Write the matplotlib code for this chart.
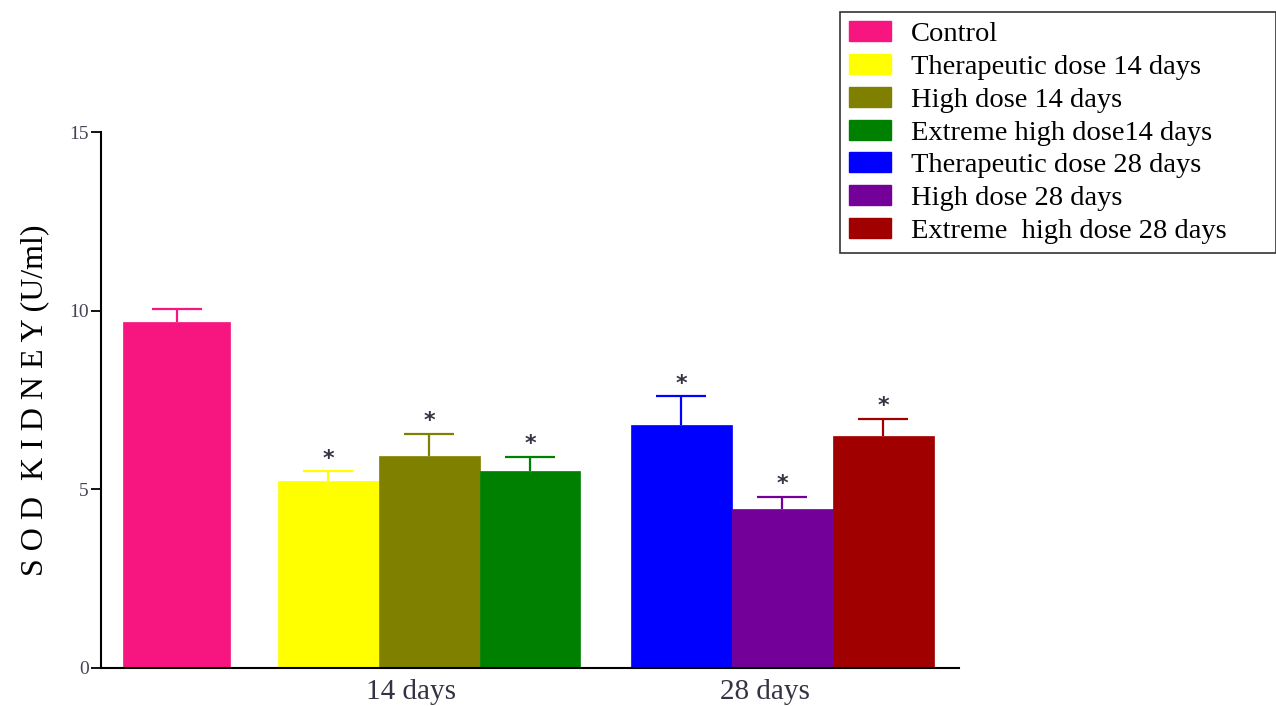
import numpy as np
import matplotlib.pyplot as plt
from matplotlib.patches import Patch

groups = ['Control', 'Therapeutic dose 14 days', 'High dose 14 days',
          'Extreme high dose14 days', 'Therapeutic dose 28 days',
          'High dose 28 days', 'Extreme  high dose 28 days']
means = [9.68, 5.23, 5.93, 5.51, 6.80, 4.45, 6.49]
errors = [0.37, 0.28, 0.62, 0.40, 0.81, 0.34, 0.48]
signif = [False, True, True, True, True, True, True]
colors = ['#F7157F', '#FFFF00', '#808000', '#008000', '#0000FF', '#730099', '#A00000']
xpos = [0, 1.5, 2.5, 3.5, 5, 6, 7]
widths = [1.06, 1, 1, 1, 1, 1, 1]
tick_pos = [2.32, 5.83]
tick_labels = ['14 days', '28 days']

plt.rcParams['font.family'] = ['Liberation Serif', 'DejaVu Serif']

fig = plt.figure(figsize=(12.76, 7.06), dpi=100)
ax = fig.add_axes([101 / 1276, 38 / 706, (959 - 101) / 1276, (668 - 132) / 706])

for x, m, e, w, c, s in zip(xpos, means, errors, widths, colors, signif):
    ax.bar(x, m, width=w, color=c, edgecolor=c, linewidth=0.5, zorder=2)
    eb = ax.errorbar(x, m, yerr=[[0], [e]], fmt='none', ecolor=c, elinewidth=1.6,
                     capsize=18, capthick=1.6, zorder=3)
    eb[1][0].set_visible(False)  # only the upper cap
    if s:
        ax.annotate('*', (x, m + e), xytext=(0, 9), textcoords='offset points',
                    ha='center', va='center', fontsize=16, fontweight='bold',
                    color='#333344', family='DejaVu Sans')

ax.set_xlim(-0.75, 7.75)
ax.set_ylim(0, 15)
ax.set_yticks([0, 5, 10, 15])
ax.set_xticks(tick_pos)
ax.set_xticklabels(tick_labels, fontsize=21, color='#333344')
ax.tick_params(axis='x', length=0, pad=8)
ax.tick_params(axis='y', length=7, width=1.3, labelsize=14, labelcolor='#444455', pad=2)
for side in ['top', 'right']:
    ax.spines[side].set_visible(False)
ax.spines['left'].set_linewidth(1.5)
ax.spines['bottom'].set_linewidth(1.5)
ax.set_ylabel('S O D  K I D N E Y (U/ml)', fontsize=23, labelpad=14)

handles = [Patch(facecolor=c, edgecolor=c) for c in colors]
leg = fig.legend(handles, groups, loc='upper left',
                 bbox_to_anchor=(840 / 1276, 1 - 12 / 706, 436 / 1276, 0),
                 mode='expand',
                 fontsize=20.5, frameon=True, fancybox=False,
                 handlelength=1.45, handleheight=0.7, handletextpad=0.7,
                 labelspacing=0.24, borderpad=0.33, borderaxespad=0)
leg.get_frame().set_edgecolor('black')
leg.get_frame().set_linewidth(1.2)

fig.savefig('out.png', dpi=100)
